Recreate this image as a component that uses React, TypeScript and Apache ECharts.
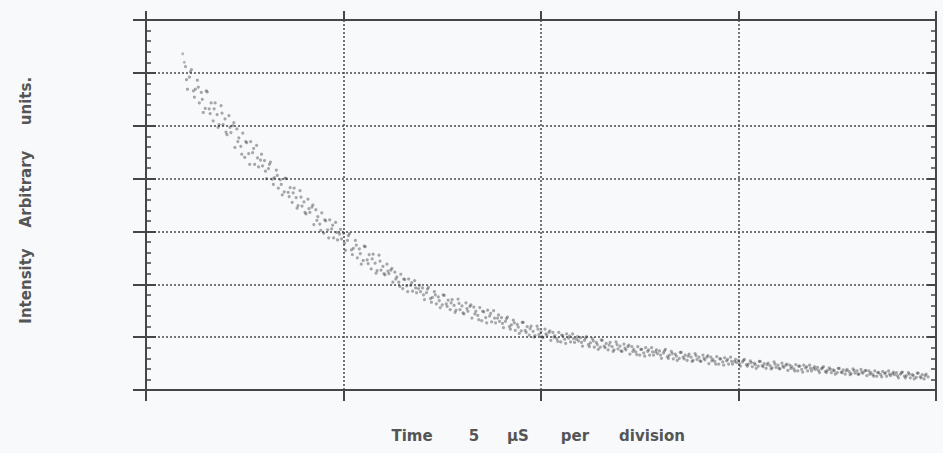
import React, { useEffect, useRef } from "react";
import * as echarts from "echarts";

// Oscilloscope trace: samples every 0.05 µs starting at 1.0 µs (5 µs per division)
const sampleStartUs = 1.0;
const sampleStepUs = 0.05;

// Intensity in divisions (arbitrary units)
const intensity = [
  6.12, 5.69, 5.92, 6.06, 5.66, 5.69, 5.86, 5.43, 5.63, 5.25,
  5.33, 5.64, 5.32, 5.43, 5.09, 5.43, 5.21, 5.02, 5.38, 5.02,
  5.13, 4.83, 5.19, 4.87, 5.0, 4.59, 4.94, 4.77, 4.61, 4.86,
  4.4, 4.68, 4.47, 4.7, 4.49, 4.27, 4.63, 4.22, 4.35, 4.24,
  4.34, 4.0, 4.19, 4.31, 3.99, 4.02, 4.16, 3.82, 3.98, 3.69,
  3.75, 4.0, 3.74, 3.83, 3.55, 3.82, 3.64, 3.49, 3.77, 3.48,
  3.56, 3.33, 3.61, 3.36, 3.46, 3.13, 3.41, 3.28, 3.14, 3.35,
  2.97, 3.2, 3.03, 3.22, 3.05, 2.88, 3.17, 2.84, 2.95, 2.86,
  2.97, 2.64, 2.83, 2.96, 2.65, 2.68, 2.83, 2.5, 2.67, 2.38,
  2.45, 2.71, 2.46, 2.56, 2.29, 2.57, 2.4, 2.26, 2.55, 2.27,
  2.34, 2.18, 2.38, 2.2, 2.27, 2.04, 2.23, 2.14, 2.04, 2.19,
  1.92, 2.09, 1.97, 2.1, 1.98, 1.87, 2.07, 1.84, 1.92, 1.86,
  1.93, 1.71, 1.84, 1.94, 1.73, 1.75, 1.86, 1.63, 1.76, 1.56,
  1.61, 1.79, 1.63, 1.7, 1.52, 1.71, 1.6, 1.51, 1.72, 1.52,
  1.59, 1.44, 1.65, 1.49, 1.58, 1.36, 1.57, 1.49, 1.41, 1.56,
  1.31, 1.48, 1.37, 1.51, 1.4, 1.29, 1.5, 1.27, 1.36, 1.3,
  1.37, 1.18, 1.3, 1.38, 1.2, 1.23, 1.32, 1.13, 1.24, 1.07,
  1.12, 1.28, 1.13, 1.2, 1.04, 1.21, 1.11, 1.03, 1.21, 1.05,
  1.1, 0.99, 1.15, 1.03, 1.09, 0.94, 1.09, 1.03, 0.97, 1.09,
  0.91, 1.03, 0.96, 1.06, 0.98, 0.91, 1.06, 0.9, 0.96, 0.93,
  0.99, 0.83, 0.94, 1.01, 0.86, 0.89, 0.97, 0.81, 0.9, 0.77,
  0.81, 0.94, 0.83, 0.88, 0.76, 0.9, 0.82, 0.76, 0.91, 0.78,
  0.83, 0.73, 0.87, 0.76, 0.82, 0.68, 0.82, 0.77, 0.72, 0.82,
  0.66, 0.77, 0.7, 0.8, 0.73, 0.66, 0.8, 0.66, 0.72, 0.69,
  0.74, 0.6, 0.7, 0.77, 0.63, 0.66, 0.73, 0.59, 0.68, 0.56,
  0.6, 0.71, 0.62, 0.66, 0.56, 0.68, 0.62, 0.56, 0.69, 0.58,
  0.62, 0.54, 0.66, 0.57, 0.62, 0.5, 0.62, 0.58, 0.54, 0.63,
  0.49, 0.59, 0.53, 0.61, 0.55, 0.49, 0.62, 0.49, 0.54, 0.52,
  0.56, 0.45, 0.53, 0.58, 0.48, 0.49, 0.55, 0.44, 0.51, 0.41,
  0.45, 0.54, 0.46, 0.5, 0.41, 0.51, 0.46, 0.42, 0.53, 0.43,
  0.47, 0.4, 0.51, 0.43, 0.47, 0.37, 0.47, 0.44, 0.4, 0.48,
  0.36, 0.45, 0.39, 0.47, 0.42, 0.36, 0.47, 0.36, 0.41, 0.39,
  0.43, 0.33, 0.4, 0.44, 0.35, 0.37, 0.42, 0.33, 0.38, 0.3,
  0.33, 0.41, 0.34, 0.38, 0.3, 0.39, 0.35, 0.31, 0.4, 0.32,
  0.36, 0.3, 0.39, 0.32, 0.36, 0.27, 0.36, 0.33, 0.29, 0.36,
  0.26, 0.33, 0.29, 0.35, 0.31, 0.26, 0.36, 0.27, 0.31, 0.29,
  0.33, 0.23, 0.3, 0.34, 0.26, 0.27, 0.33, 0.23, 0.29, 0.21,
  0.24, 0.32, 0.25, 0.29, 0.21, 0.3, 0.25,
];

// Second sweep interleaved with the first: every 0.1 µs starting at 1.025 µs
const sweepBStartUs = 1.025;
const sweepBStepUs = 0.1;
const intensityB = [
  5.87, 6.02, 5.54, 5.73, 5.5,
  5.66, 5.23, 5.32, 4.97, 5.24,
  4.88, 4.97, 5.06, 4.7, 4.46,
  4.7, 4.27, 4.57, 4.39, 4.46,
  4.14, 4.27, 3.89, 4.06, 3.89,
  4.01, 3.66, 3.73, 3.44, 3.65,
  3.36, 3.43, 3.5, 3.21, 3.02,
  3.22, 2.88, 3.12, 2.98, 3.04,
  2.78, 2.92, 2.56, 2.74, 2.58,
  2.72, 2.39, 2.48, 2.21, 2.44,
  2.2, 2.25, 2.3, 2.1, 1.96,
  2.1, 1.86, 2.03, 1.93, 1.98,
  1.8, 1.91, 1.66, 1.8, 1.69,
  1.8, 1.58, 1.65, 1.47, 1.64,
  1.46, 1.54, 1.61, 1.44, 1.33,
  1.49, 1.27, 1.45, 1.36, 1.42,
  1.26, 1.35, 1.15, 1.27, 1.19,
  1.28, 1.09, 1.16, 1.0, 1.15,
  1.01, 1.06, 1.12, 1.0, 0.92,
  1.04, 0.88, 1.02, 0.97, 1.01,
  0.9, 0.98, 0.82, 0.93, 0.86,
  0.95, 0.8, 0.85, 0.73, 0.86,
  0.74, 0.79, 0.85, 0.73, 0.67,
  0.77, 0.64, 0.76, 0.72, 0.76,
  0.66, 0.74, 0.6, 0.69, 0.64,
  0.71, 0.59, 0.64, 0.54, 0.65,
  0.55, 0.6, 0.65, 0.55, 0.49,
  0.59, 0.47, 0.58, 0.54, 0.58,
  0.5, 0.56, 0.45, 0.52, 0.48,
  0.54, 0.44, 0.48, 0.4, 0.49,
  0.41, 0.45, 0.49, 0.41, 0.36,
  0.45, 0.34, 0.44, 0.41, 0.44,
  0.37, 0.42, 0.33, 0.39, 0.36,
  0.41, 0.33, 0.36, 0.29, 0.37,
  0.3, 0.34, 0.37, 0.3, 0.26,
  0.33, 0.25, 0.33, 0.3, 0.34,
  0.27, 0.33, 0.23, 0.3, 0.27,
  0.32, 0.23, 0.27,
];

// A few stray samples above the start of the trace
const strayTimes = [0.93, 0.97];
const strayValues = [6.36, 6.2];

// Axis ranges (divisions)
const timeMinUs = 0;
const timeMaxUs = 20;
const timeDivUs = 5;
const intensityMin = 0;
const intensityMax = 7;
const intensityDiv = 1;

const xTitleWords = ["Time", "5", "µS", "per", "division"];
const yTitleWords = ["Intensity", "Arbitrary", "units."];

export default function App() {
  const ref = useRef<HTMLDivElement>(null);

  useEffect(() => {
    if (!ref.current) return;
    const chart = echarts.init(ref.current, null, { renderer: "svg" });

    const axisColor = "#464646";
    const gridColor = "#4a4a4a";
    const font = "DejaVu Sans";
    const textColor = "#555555";

    const mainPoints = intensity.map((v, i) => [
      +(sampleStartUs + i * sampleStepUs).toFixed(3),
      v,
    ]);
    const sweepBPoints = intensityB.map((v, i) => [
      +(sweepBStartUs + i * sweepBStepUs).toFixed(3),
      v,
    ]);
    const strayPoints = strayTimes.map((t, i) => [t, strayValues[i]]);

    const xTitleCenters = [412, 474, 518, 575, 652];
    const yTitleCenters = [286, 189, 101];

    const graphic: any[] = [];
    xTitleWords.forEach((w, i) => {
      graphic.push({
        type: "text",
        x: xTitleCenters[i],
        y: 436,
        silent: true,
        style: {
          text: w,
          font: `bold 15px "${font}"`,
          fill: textColor,
          align: "center",
          verticalAlign: "middle",
        },
      });
    });
    yTitleWords.forEach((w, i) => {
      graphic.push({
        type: "text",
        x: 26,
        y: yTitleCenters[i],
        rotation: Math.PI / 2,
        silent: true,
        style: {
          text: w,
          font: `bold 15px "${font}"`,
          fill: textColor,
          align: "center",
          verticalAlign: "middle",
        },
      });
    });

    const lineStyle = { color: axisColor, width: 2 };
    const dotStyle = { color: "rgba(45,45,45,0.5)" };

    const option: any = {
      animation: false,
      backgroundColor: "#f7f9fa",
      grid: {
        left: 146,
        right: 7,
        top: 20,
        bottom: 63,
        outerBoundsMode: "none",
        containLabel: false,
      },
      xAxis: [
        {
          type: "value",
          position: "bottom",
          min: timeMinUs,
          max: timeMaxUs,
          interval: timeDivUs,
          axisLine: { show: true, onZero: false, lineStyle },
          axisTick: { show: true, length: 11, lineStyle },
          axisLabel: { show: false },
          splitLine: {
            show: true,
            lineStyle: { color: gridColor, width: 1.5, type: [2, 2] },
          },
        },
        {
          type: "value",
          position: "top",
          min: timeMinUs,
          max: timeMaxUs,
          interval: timeDivUs,
          axisLine: { show: true, onZero: false, lineStyle },
          axisTick: { show: true, length: 9, lineStyle },
          axisLabel: { show: false },
          splitLine: { show: false },
        },
      ],
      yAxis: [
        {
          type: "value",
          position: "left",
          min: intensityMin,
          max: intensityMax,
          interval: intensityDiv,
          axisLine: { show: true, onZero: false, lineStyle },
          axisTick: { show: true, length: 13, lineStyle },
          axisLabel: { show: false },
          splitLine: {
            show: true,
            lineStyle: { color: gridColor, width: 1.5, type: [2, 2] },
          },
        },
        {
          type: "value",
          position: "left",
          min: intensityMin,
          max: intensityMax,
          interval: intensityDiv,
          axisLine: { show: false, onZero: false },
          axisTick: { show: true, inside: true, length: 10, lineStyle },
          minorTick: {
            show: true,
            splitNumber: 5,
            length: 5,
            lineStyle: { color: axisColor, width: 1.5 },
          },
          axisLabel: { show: false },
          splitLine: { show: false },
        },
        {
          type: "value",
          position: "right",
          min: intensityMin,
          max: intensityMax,
          interval: intensityDiv,
          axisLine: { show: true, onZero: false, lineStyle },
          axisTick: { show: true, inside: true, length: 9, lineStyle },
          minorTick: {
            show: true,
            splitNumber: 5,
            length: 5,
            lineStyle: { color: axisColor, width: 1.5 },
          },
          axisLabel: { show: false },
          splitLine: { show: false },
        },
      ],
      series: [
        {
          type: "scatter",
          xAxisIndex: 0,
          yAxisIndex: 0,
          data: mainPoints,
          symbol: "circle",
          symbolSize: 3.2,
          silent: true,
          itemStyle: dotStyle,
        },
        {
          type: "scatter",
          xAxisIndex: 0,
          yAxisIndex: 0,
          data: sweepBPoints,
          symbol: "circle",
          symbolSize: 3.2,
          silent: true,
          itemStyle: dotStyle,
        },
        {
          type: "scatter",
          xAxisIndex: 0,
          yAxisIndex: 0,
          data: strayPoints,
          symbol: "circle",
          symbolSize: 3,
          silent: true,
          itemStyle: { color: "rgba(45,45,45,0.4)" },
        },
      ],
      graphic,
    };

    chart.setOption(option);
    return () => chart.dispose();
  }, []);

  return (
    <div
      ref={ref}
      style={{
        position: "fixed",
        left: 0,
        top: 0,
        width: 943,
        height: 453,
        background: "#f7f9fa",
      }}
    />
  );
}
